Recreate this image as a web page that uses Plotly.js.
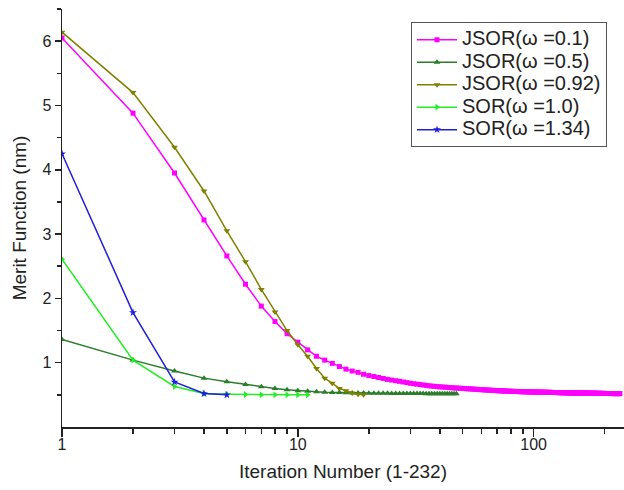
<!DOCTYPE html>
<html>
<head>
<meta charset="utf-8">
<script src="https://cdn.plot.ly/plotly-3.0.1.min.js"></script>
<style>html,body{margin:0;padding:0;background:#fff;}#chart{width:624px;height:490px;}</style>
</head>
<body>
<div id="chart"></div>
<script>
// Series names
const seriesNames = ["JSOR(ω =0.1)", "JSOR(ω =0.5)", "JSOR(ω =0.92)", "SOR(ω =1.0)", "SOR(ω =1.34)"];

// Merit function values per iteration (starting at iteration 1)
const jsor01 = [
  6.05, 4.88, 3.95, 3.22, 2.66, 2.22, 1.88, 1.64, 1.45, 1.32,
  1.20, 1.10, 1.04, 0.99, 0.94, 0.90, 0.87, 0.85, 0.82, 0.80,
  0.785, 0.77, 0.755, 0.74, 0.73, 0.72, 0.71, 0.70, 0.69, 0.68,
  0.673, 0.666, 0.66, 0.653, 0.647, 0.64, 0.636, 0.632, 0.628, 0.625,
  0.622, 0.619, 0.616, 0.613, 0.61, 0.608, 0.606, 0.604, 0.602, 0.60,
  0.598, 0.596, 0.594, 0.592, 0.59, 0.588, 0.586, 0.584, 0.582, 0.58,
  0.579, 0.577, 0.576, 0.574, 0.573, 0.571, 0.57, 0.568, 0.567, 0.565,
  0.564, 0.563, 0.562, 0.561, 0.56, 0.559, 0.558, 0.557, 0.556, 0.555,
  0.554, 0.554, 0.553, 0.552, 0.552, 0.551, 0.55, 0.55, 0.549, 0.549,
  0.548, 0.548, 0.547, 0.547, 0.546, 0.546, 0.545, 0.545, 0.545, 0.544,
  0.544, 0.543, 0.543, 0.543, 0.542, 0.542, 0.542, 0.541, 0.541, 0.541,
  0.54, 0.54, 0.54, 0.539, 0.539, 0.539, 0.538, 0.538, 0.538, 0.537,
  0.537, 0.537, 0.536, 0.536, 0.536, 0.535, 0.535, 0.535, 0.535, 0.534,
  0.534, 0.534, 0.534, 0.533, 0.533, 0.533, 0.533, 0.532, 0.532, 0.532,
  0.532, 0.531, 0.531, 0.531, 0.531, 0.53, 0.53, 0.53, 0.53, 0.53,
  0.529, 0.529, 0.529, 0.529, 0.528, 0.528, 0.528, 0.528, 0.528, 0.527,
  0.527, 0.527, 0.527, 0.527, 0.526, 0.526, 0.526, 0.526, 0.526, 0.526,
  0.525, 0.525, 0.525, 0.525, 0.525, 0.525, 0.524, 0.524, 0.524, 0.524,
  0.524, 0.524, 0.524, 0.523, 0.523, 0.523, 0.523, 0.523, 0.523, 0.523,
  0.523, 0.522, 0.522, 0.522, 0.522, 0.522, 0.522, 0.522, 0.522, 0.522,
  0.521, 0.521, 0.521, 0.521, 0.521, 0.521, 0.521, 0.521, 0.521, 0.521,
  0.521, 0.521, 0.521, 0.521, 0.521, 0.52, 0.52, 0.52, 0.52, 0.52,
  0.52, 0.52, 0.52, 0.52, 0.52, 0.52, 0.52, 0.52, 0.52, 0.52, 0.52, 0.52
];
const jsor05 = [
  1.36, 1.04, 0.87, 0.76, 0.705, 0.66, 0.625, 0.60, 0.58, 0.565,
  0.555, 0.548, 0.542, 0.538, 0.535, 0.532, 0.53, 0.528, 0.527, 0.526,
  0.525, 0.524, 0.523, 0.523, 0.522, 0.522, 0.521, 0.521, 0.52, 0.52,
  0.52, 0.519, 0.519, 0.519, 0.518, 0.518, 0.518, 0.518, 0.517, 0.517,
  0.517, 0.517, 0.516, 0.516, 0.516, 0.516, 0.516
];
const jsor092 = [
  6.14, 5.20, 4.35, 3.67, 3.05, 2.57, 2.14, 1.79, 1.50, 1.28,
  1.10, 0.91, 0.76, 0.68, 0.60, 0.565, 0.53, 0.51, 0.50
];
const sor10 = [2.61, 1.04, 0.63, 0.52, 0.51, 0.505, 0.50, 0.50, 0.50, 0.50, 0.50];
const sor134 = [4.25, 1.78, 0.70, 0.52, 0.50];

// Axis ticks
const xTickVals = [1, 10, 100];
const xTickText = ["1", "10", "100"];
const xMinorVals = [2, 3, 4, 5, 6, 7, 8, 9, 20, 30, 40, 50, 60, 70, 80, 90, 200];
const yTickVals = [1, 2, 3, 4, 5, 6];

const allSeries = [jsor01, jsor05, jsor092, sor10, sor134];
const colors = ["#ff00ff", "#2b7d2b", "#808000", "#22ee22", "#1f1fdd"];
const symbols = ["square", "triangle-up", "triangle-down", "triangle-right", "star"];
const msizes = [5, 6, 6, 6, 6];

const traces = allSeries.map((ys, i) => ({
  x: ys.map((_, k) => k + 1),
  y: ys,
  name: '<span style="font-size:20px">' + seriesNames[i] + '</span>',
  type: "scatter",
  mode: "lines+markers",
  line: {color: colors[i], width: 1.5},
  marker: {color: colors[i], symbol: symbols[i], size: msizes[i]}
}));

const font = "Liberation Sans, Arial, sans-serif";
const layout = {
  width: 624, height: 490,
  margin: {l: 62, r: 0, t: 9, b: 63},
  paper_bgcolor: "#fff", plot_bgcolor: "#fff",
  font: {family: font, color: "#222"},
  showlegend: true,
  legend: {
    x: 0.621, y: 0.968, xanchor: "left", yanchor: "top",
    bgcolor: "#fff", bordercolor: "#555", borderwidth: 1,
    font: {family: font, size: 15, color: "#222"},
    itemwidth: 40, tracegroupgap: 0
  },
  xaxis: {
    type: "log",
    range: [0, 2.383],
    tickmode: "array", tickvals: xTickVals, ticktext: xTickText,
    ticks: "outside", ticklen: 8, tickwidth: 1.5, tickcolor: "#222",
    ticklabelstandoff: -6,
    showline: true, linecolor: "#222", linewidth: 1.5,
    showgrid: false, zeroline: false,
    tickfont: {family: font, size: 16, color: "#222"},
    minor: {tickmode: "array", tickvals: xMinorVals, ticks: "outside", ticklen: 5, tickwidth: 1.5, tickcolor: "#222", showgrid: false},
    title: {text: "Iteration Number (1-232)", font: {family: font, size: 19, color: "#222"}, standoff: 13}
  },
  yaxis: {
    range: [0, 6.5],
    tickmode: "array", tickvals: yTickVals,
    ticks: "outside", ticklen: 6, tickwidth: 1.5, tickcolor: "#222",
    showline: true, linecolor: "#222", linewidth: 1.5,
    showgrid: false, zeroline: false,
    tickfont: {family: font, size: 16, color: "#222"},
    minor: {tickmode: "linear", tick0: 0.5, dtick: 1, ticks: "outside", ticklen: 4, tickwidth: 1.5, tickcolor: "#222", showgrid: false},
    title: {text: "Merit Function (nm)", font: {family: font, size: 19, color: "#222"}, standoff: 10}
  }
};

Plotly.newPlot("chart", traces, layout, {displayModeBar: false, staticPlot: true});
</script>
</body>
</html>
